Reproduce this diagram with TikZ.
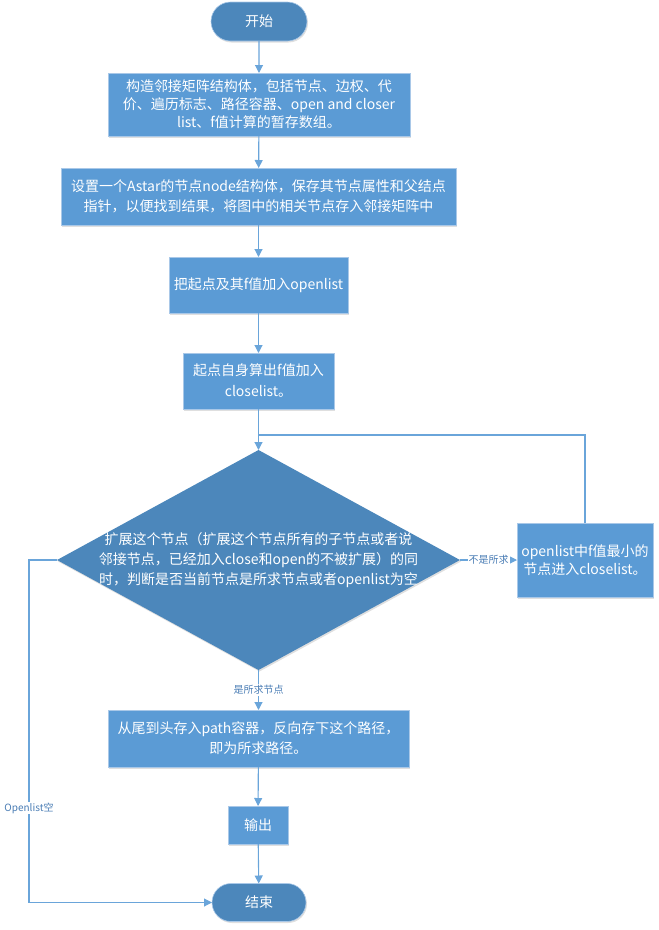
\documentclass[tikz,border=0pt]{standalone}
\usepackage{fontspec}
\setmainfont{Noto Sans CJK SC}
\usetikzlibrary{shapes.geometric,shapes.misc,arrows.meta,shadows}
\definecolor{boxblue}{HTML}{5B9BD5}
\definecolor{darkblue}{HTML}{4C87BB}
\definecolor{edgeblue}{HTML}{A9C8E8}
\definecolor{lineblue}{HTML}{6AA5DA}
\definecolor{lblblue}{HTML}{4A7DB5}
\tikzset{
  shad/.style={drop shadow={shadow xshift=1pt,shadow yshift=-1.5pt,opacity=0.25,fill=gray}},
  procbox/.style={rectangle,fill=boxblue,draw=edgeblue,line width=0.8pt,text=white,align=center,
    inner sep=2pt,outer sep=0pt,font=\fontsize{14}{20}\selectfont,shad},
  pill/.style={rounded rectangle,fill=darkblue,draw=edgeblue,line width=0.6pt,text=white,
    inner sep=0pt,outer sep=0pt,font=\fontsize{14}{20}\selectfont,shad},
  dia/.style={diamond,fill=darkblue,inner sep=0pt,outer sep=0pt,shad},
  txt/.style={text=white,align=center,font=\fontsize{14}{20}\selectfont},
  arr/.style={draw=lineblue,line width=1.1pt,-{Triangle[width=8pt,length=8pt]}},
  ln/.style={draw=lineblue,line width=1.1pt},
  lbl/.style={fill=white,text=lblblue,inner sep=1pt,font=\fontsize{10}{12}\selectfont},
}
\begin{document}
\begin{tikzpicture}[x=1pt,y=-1pt]
\useasboundingbox (0,0) rectangle (659,930);
\node[pill,minimum width=96pt,minimum height=39pt] (start) at (259,21.5) {开始};
\node[procbox,minimum width=302pt,minimum height=63pt,font=\fontsize{14}{18}\selectfont] (b1) at (259,104.5)
  {构造邻接矩阵结构体，包括节点、边权、代\\价、遍历标志、路径容器、open and closer\\list、f值计算的暂存数组。};
\node[procbox,minimum width=395pt,minimum height=57pt] (b2) at (258.5,196.5)
  {设置一个Astar的节点node结构体，保存其节点属性和父结点\\指针，以便找到结果，将图中的相关节点存入邻接矩阵中};
\node[procbox,minimum width=179pt,minimum height=56pt] (b3) at (258.5,285) {把起点及其f值加入openlist};
\node[procbox,minimum width=151pt,minimum height=56pt,font=\fontsize{14}{21}\selectfont] (b4) at (258.5,381)
  {起点自身算出f值加入\\closelist。};
\node[dia,minimum width=403pt,minimum height=220pt] (d) at (258.5,560) {};
\node[txt] (dt) at (d.center)
  {扩展这个节点（扩展这个节点所有的子节点或者说\\邻接节点，已经加入close和open的不被扩展）的同\\时，判断是否当前节点是所求节点或者openlist为空};
\node[procbox,minimum width=136pt,minimum height=74pt,font=\fontsize{14}{18}\selectfont] (r) at (585,560)
  {openlist中f值最小的\\节点进入closelist。};
\node[procbox,minimum width=301pt,minimum height=57pt] (b5) at (258.5,738.5)
  {从尾到头存入path容器，反向存下这个路径，\\即为所求路径。};
\node[procbox,minimum width=60pt,minimum height=38pt] (b6) at (258,825) {输出};
\node[pill,minimum width=94pt,minimum height=38pt] (end) at (259,902.5) {结束};
\coordinate (j) at (258.5,435);
\coordinate (ol) at (29,560);
\coordinate (olb) at (29,902.5);
\draw[arr] (start) -- (b1);
\draw[arr] (b1) -- (b2);
\draw[arr] (b2) -- (b3);
\draw[arr] (b3) -- (b4);
\draw[arr] (b4) -- (d.north);
\draw[arr] (d.east) -- node[lbl] {不是所求} (r.west);
\draw[ln] (r.north) |- (j);
\draw[arr] (d.south) -- node[lbl] {是所求节点} (b5.north);
\draw[arr] (b5) -- (b6);
\draw[arr] (b6) -- (end);
\draw[arr] (d.west) -- (ol) -- node[lbl,pos=0.724] {Openlist空} (olb) -- (end.west);
\end{tikzpicture}
\end{document}
